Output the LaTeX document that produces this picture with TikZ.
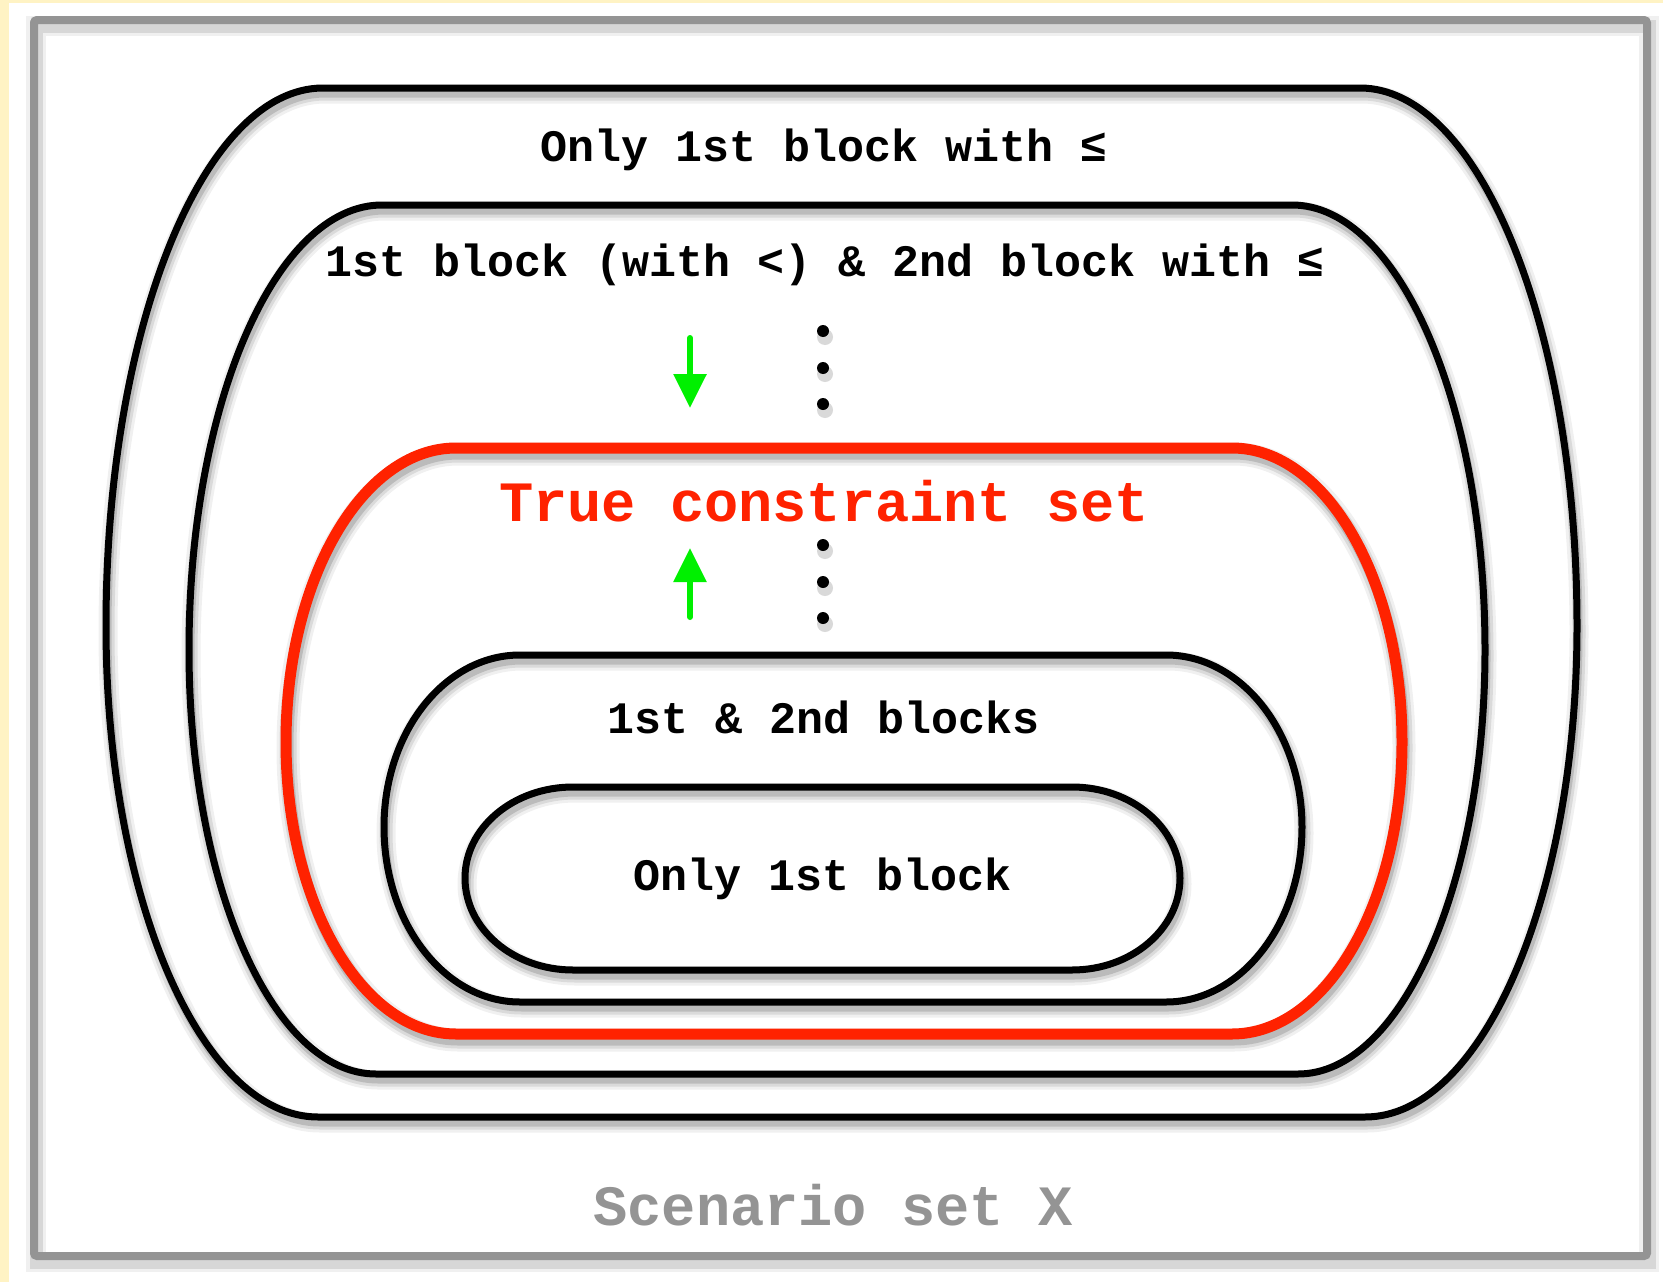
\documentclass[tikz,border=0pt]{standalone}
\usepackage{fontspec}
\setmonofont{Liberation Mono}
\usetikzlibrary{arrows.meta}
\definecolor{bgyellow}{HTML}{FFF3C4}
\definecolor{framegray}{HTML}{949494}
\definecolor{setred}{HTML}{FF2200}
\definecolor{arrgreen}{HTML}{00F000}
% #1 style, #2 L, #3 R, #4 T, #5 B, #6 apex y, #7 rx top, #8 rx bottom
\newcommand\blob[8]{%
  \draw[#1] ({#2+#7},#4) -- ({#3-#7},#4)
    .. controls ({#3-#7+0.5523*#7},#4) and (#3,{#6-0.5523*(#6-#4)}) .. (#3,#6)
    .. controls (#3,{#6+0.5523*(#5-#6)}) and ({#3-#8+0.5523*#8},#5) .. ({#3-#8},#5)
    -- ({#2+#8},#5)
    .. controls ({#2+#8-0.5523*#8},#5) and (#2,{#6+0.5523*(#5-#6)}) .. (#2,#6)
    .. controls (#2,{#6-0.5523*(#6-#4)}) and ({#2+#7-0.5523*#7},#4) .. ({#2+#7},#4) -- cycle;}
% shadowed blob: #1 colour, #2 line width, then geometry
\newcommand\sblob[9]{%
  \blob{black,opacity=0.06,line width=#2+12,shift={(2,6)}}{#3}{#4}{#5}{#6}{#7}{#8}{#9}
  \blob{black,opacity=0.09,line width=#2+6,shift={(2,6)}}{#3}{#4}{#5}{#6}{#7}{#8}{#9}
  \blob{black,opacity=0.14,line width=#2,shift={(2,6)}}{#3}{#4}{#5}{#6}{#7}{#8}{#9}
  \blob{draw=#1,line width=#2}{#3}{#4}{#5}{#6}{#7}{#8}{#9}}
\tikzset{
  lab/.style={font=\ttfamily\bfseries\fontsize{45}{54}\selectfont, anchor=base, inner sep=0pt},
  biglab/.style={font=\ttfamily\bfseries\fontsize{57}{68}\selectfont, anchor=base, inner sep=0pt},
  dotnode/.style={circle, fill=black, minimum size=12pt, inner sep=0pt},
  dotshadow/.style={circle, fill=black, opacity=0.15, minimum size=16pt, inner sep=0pt},
  garrow/.style={draw=arrgreen, line width=6pt, line cap=round, -{Triangle[length=34pt,width=32pt]}}
}
\begin{document}
\begin{tikzpicture}[x=1pt,y=-1pt]
\useasboundingbox (0,0) rectangle (1663,1282);
\fill[bgyellow] (0,0) rectangle (1663,1282);
\fill[white] (9,3) rectangle (1663,1282);
% frame
\draw[black,opacity=0.06,line width=20pt,shift={(2,6)}] (34,20) rectangle (1647,1256);
\draw[black,opacity=0.10,line width=13pt,shift={(2,6)}] (34,20) rectangle (1647,1256);
\draw[framegray,line width=8pt,rounded corners=3pt] (34,20) rectangle (1647,1256);
% nested sets
\sblob{black}{7}{106}{1577}{88}{1117}{626}{217}{212}
\sblob{black}{7}{189}{1485}{205}{1074}{650}{193}{187}
\sblob{setred}{11}{286}{1402}{448}{1034}{742}{170}{170}
\sblob{black}{7}{384}{1302}{655}{1002}{827}{136}{136}
\sblob{black}{7}{465}{1180}{787}{970}{878}{108}{108}
% labels
\node[lab] (t1) at (824,161) {Only 1st block with ≤};
\node[lab] (t2) at (825,276) {1st block (with <) \& 2nd block with ≤};
\node[biglab, text=setred] (t3) at (824,521) {True constraint set};
\node[lab] (t4) at (824,733) {1st \& 2nd blocks};
\node[lab] (t5) at (823,890) {Only 1st block};
\node[biglab, text=framegray] (t6) at (833,1225) {Scenario set X};
% dots
\foreach \n/\yy in {a/331,b/368,c/404,d/545,e/582,f/618}{
  \node[dotshadow] (s\n) at (825,{\yy+6}) {};
  \node[dotnode] (d\n) at (823,\yy) {};
}
% arrows
\coordinate (a1s) at (690,338);
\coordinate (a1e) at (690,408);
\coordinate (a2s) at (690,617);
\coordinate (a2e) at (690,548);
\draw[garrow] (a1s) -- (a1e);
\draw[garrow] (a2s) -- (a2e);
\end{tikzpicture}
\end{document}
